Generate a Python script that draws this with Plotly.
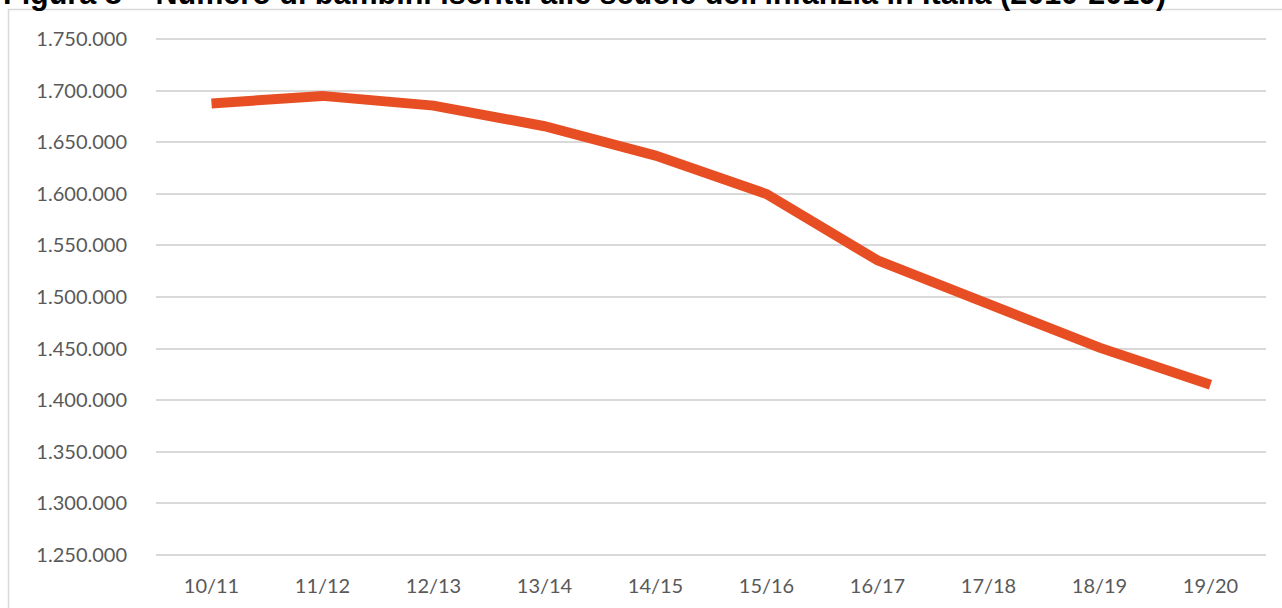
import plotly.graph_objects as go

categories = ["10/11", "11/12", "12/13", "13/14", "14/15", "15/16", "16/17", "17/18", "18/19", "19/20"]
iscritti = [1687500, 1694900, 1685500, 1665500, 1637000, 1599800, 1535500, 1492000, 1450900, 1415000]
y_ticks = [1250000, 1300000, 1350000, 1400000, 1450000, 1500000, 1550000, 1600000, 1650000, 1700000, 1750000]
y_tick_labels = [f"{v:,}".replace(",", ".") for v in y_ticks]
title_text = "Figura 8 – Numero di bambini iscritti alle scuole dell'infanzia in Italia (2010-2019)"

W, H = 1282, 608
ml, mr, mt, mb = 156, 16, 38, 52

fig = go.Figure()
fig.add_trace(go.Scatter(
    x=categories, y=iscritti, mode="lines",
    line=dict(color="#E84E23", width=10),
    hoverinfo="x+y", showlegend=False,
))

pw = W - ml - mr
ph = H - mt - mb

def px_x(p):
    return (p - ml) / pw

def px_y(p):
    return (H - mb - p) / ph

fig.update_layout(
    width=W, height=H,
    margin=dict(l=ml, r=mr, t=mt, b=mb),
    paper_bgcolor="white", plot_bgcolor="white",
    font=dict(family="Lato, sans-serif", color="#595959", size=20),
    xaxis=dict(
        type="category", range=[-0.5, 9.5], showgrid=False, zeroline=False,
        showline=False, ticks="", ticklabelstandoff=16,
        tickfont=dict(size=20, color="#595959"),
    ),
    yaxis=dict(
        range=[1249000, 1751000], tickvals=y_ticks, ticktext=y_tick_labels,
        showgrid=True, gridcolor="#D9D9D9", gridwidth=1.5, zeroline=False,
        showline=False, ticks="", ticklabelstandoff=28,
        tickfont=dict(size=20, color="#595959"),
    ),
    shapes=[dict(
        type="rect", xref="paper", yref="paper",
        x0=px_x(8.5), x1=px_x(1290), y0=px_y(620), y1=px_y(9.5),
        line=dict(color="#D9D9D9", width=1.5), fillcolor="rgba(0,0,0,0)", layer="below",
    )],
    annotations=[dict(
        text="<b>" + title_text + "</b>", xref="paper", yref="paper",
        x=px_x(1), y=px_y(-6.5), xanchor="left", yanchor="middle",
        showarrow=False, font=dict(family="Liberation Sans, Arial, sans-serif", size=30.5, color="black"),
    )],
)

fig.write_html(
    "out.html",
    config={"displayModeBar": False},
    post_script="document.body.style.margin='0';document.body.style.overflow='hidden';",
)
